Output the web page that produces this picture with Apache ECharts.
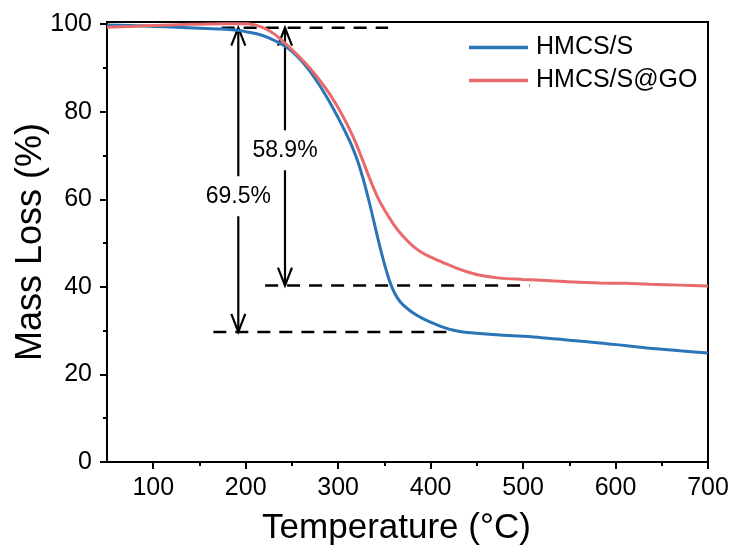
<!DOCTYPE html>
<html>
<head>
<meta charset="utf-8">
<script src="https://cdn.jsdelivr.net/npm/echarts@6/dist/echarts.min.js"></script>
<style>
  html, body { margin: 0; padding: 0; background: #fff; }
  #chart { width: 737px; height: 552px; }
</style>
</head>
<body>
<div id="chart"></div>
<script>
// TGA curves: temperature (°C) vs remaining mass (%)
const hmcsS = [
  [50, 99.8], [75, 99.7], [100, 99.5], [125, 99.3], [150, 99.1], [175, 98.9],
  [190, 98.6], [200, 98.3], [212, 97.8], [225, 96.9], [240, 95.3], [250, 93.8],
  [260, 91.7], [270, 89.1], [280, 86.0], [290, 82.5], [300, 78.6], [308, 75.3],
  [315, 72.1], [321, 68.8], [327, 64.7], [333, 59.9], [339, 54.6], [345, 49.3],
  [351, 44.5], [356, 41.1], [361, 38.6], [367, 36.6], [375, 35.0], [385, 33.5],
  [395, 32.4], [405, 31.5], [415, 30.7], [425, 30.1], [435, 29.7], [450, 29.4],
  [475, 29.0], [500, 28.7], [520, 28.4], [550, 27.8], [583, 27.2], [610, 26.6],
  [637, 26.0], [670, 25.4], [700, 24.9]
];
const hmcsSGO = [
  [50, 99.3], [75, 99.5], [100, 99.7], [125, 99.9], [150, 100.0], [175, 100.1],
  [200, 100.1], [210, 99.8], [220, 99.1], [230, 97.9], [240, 96.1], [250, 94.2],
  [260, 92.1], [270, 89.8], [280, 87.2], [290, 84.3], [300, 80.9], [310, 77.0],
  [318, 73.4], [326, 69.2], [334, 64.8], [342, 60.8], [350, 57.6], [360, 54.3],
  [370, 51.6], [380, 49.5], [390, 47.9], [402, 46.6], [415, 45.4], [428, 44.3],
  [440, 43.4], [455, 42.6], [475, 42.0], [500, 41.7], [529, 41.4], [555, 41.1],
  [583, 40.9], [610, 40.8], [637, 40.6], [670, 40.4], [700, 40.2]
];

const seriesNames = ['HMCS/S', 'HMCS/S@GO'];

// Tick values
const xTickLabels = [100, 200, 300, 400, 500, 600, 700];
const xMinorTicks = [150, 250, 350, 450, 550, 650];
const yTickLabels = [0, 20, 40, 60, 80, 100];
const yMinorTicks = [10, 30, 50, 70, 90];

// Mass-loss annotations: start level, loss values, arrow positions
const startLevel = 99.2;
const massLoss = [69.5, 58.9];
const lossLabels = ['69.5%', '58.9%'];
const arrowX = [192, 242.5];
const arrowLabelY = [60.7, 71.2];

// Dashed guide lines: [x start, x end] for the start level and each residual level
const guideTop = [174, 354];
const guideResidual = [[221, 507], [165, 421]];

const FONT = "'Liberation Sans', Arial, sans-serif";
const BLUE = '#2b74b8';
const RED = '#e86a6b';

const residual = massLoss.map(l => +(startLevel - l).toFixed(2));
const guideData = [[guideTop[0], guideTop[1], startLevel]]
  .concat(guideResidual.map((g, i) => [g[0], g[1], residual[(i + 1) % 2]]));
const arrowData = arrowX.map((x, i) => [x, startLevel, residual[i], arrowLabelY[i]]);

const chart = echarts.init(document.getElementById('chart'), null, { renderer: 'canvas' });

function renderGuide(params, api) {
  const a = api.coord([api.value(0), api.value(2)]);
  const b = api.coord([api.value(1), api.value(2)]);
  return {
    type: 'line',
    shape: { x1: a[0], y1: a[1], x2: b[0], y2: b[1] },
    style: { stroke: '#000', lineWidth: 2.5, lineDash: [13, 9] }
  };
}

function renderArrow(params, api) {
  const x = api.value(0);
  const pTop = api.coord([x, api.value(1)]);
  const pBot = api.coord([x, api.value(2)]);
  const pLab = api.coord([x, api.value(3)]);
  const px = pTop[0];
  const gap = 20, headLen = 18, headHalf = 7;
  const lineStyle = { stroke: '#000', lineWidth: 2.2, fill: null };
  return {
    type: 'group',
    children: [
      { type: 'line', shape: { x1: px, y1: pTop[1], x2: px, y2: pLab[1] - gap }, style: lineStyle },
      { type: 'line', shape: { x1: px, y1: pLab[1] + gap, x2: px, y2: pBot[1] }, style: lineStyle },
      { type: 'polyline', shape: { points: [[px - headHalf, pTop[1] + headLen], [px, pTop[1]], [px + headHalf, pTop[1] + headLen]] }, style: lineStyle },
      { type: 'polyline', shape: { points: [[px - headHalf, pBot[1] - headLen], [px, pBot[1]], [px + headHalf, pBot[1] - headLen]] }, style: lineStyle },
      {
        type: 'text',
        x: px, y: pLab[1],
        style: {
          text: lossLabels[params.dataIndex],
          fontFamily: FONT, fontSize: 23, fill: '#000',
          align: 'center', verticalAlign: 'middle'
        }
      }
    ]
  };
}

const axisLineStyle = { color: '#000', width: 2 };

chart.setOption({
  backgroundColor: '#fff',
  animation: false,
  textStyle: { fontFamily: FONT },
  grid: {
    left: 107, right: 29, top: 22, bottom: 90,
    outerBoundsMode: 'none',
    show: true, borderColor: '#000', borderWidth: 2, backgroundColor: 'transparent'
  },
  legend: {
    data: seriesNames,
    orient: 'vertical',
    left: 469, top: 35,
    padding: 0,
    itemGap: 8,
    icon: 'rect',
    itemWidth: 59, itemHeight: 3.5,
    textStyle: { fontFamily: FONT, fontSize: 25, color: '#000', padding: [0, 0, 0, 3] }
  },
  xAxis: [
    {
      type: 'value', min: 50, max: 700,
      name: 'Temperature (°C)', nameLocation: 'middle', nameGap: 49,
      nameMoveOverlap: false,
      nameTextStyle: { fontFamily: FONT, fontSize: 35, color: '#000', padding: [0, 22, 0, 0] },
      axisLine: { lineStyle: axisLineStyle },
      axisTick: { show: true, length: 7, lineStyle: { color: '#000', width: 2 }, customValues: xTickLabels },
      axisLabel: { customValues: xTickLabels, fontFamily: FONT, fontSize: 25, color: '#000', margin: 14 },
      splitLine: { show: false }
    },
    {
      type: 'value', min: 50, max: 700, position: 'bottom',
      axisLine: { show: false },
      axisTick: { show: true, length: 4, lineStyle: { color: '#000', width: 2 }, customValues: xMinorTicks },
      axisLabel: { show: false },
      splitLine: { show: false }
    }
  ],
  yAxis: [
    {
      type: 'value', min: 0, max: 100.5,
      name: 'Mass Loss (%)', nameLocation: 'middle', nameGap: 58,
      nameMoveOverlap: false,
      nameTextStyle: { fontFamily: FONT, fontSize: 36, color: '#000' },
      axisLine: { show: true, lineStyle: axisLineStyle },
      axisTick: { show: true, length: 7, lineStyle: { color: '#000', width: 2 }, customValues: yTickLabels },
      axisLabel: { customValues: yTickLabels, fontFamily: FONT, fontSize: 25, color: '#000', margin: 15 },
      splitLine: { show: false }
    },
    {
      type: 'value', min: 0, max: 100.5, position: 'left',
      axisLine: { show: false },
      axisTick: { show: true, length: 4, lineStyle: { color: '#000', width: 2 }, customValues: yMinorTicks },
      axisLabel: { show: false },
      splitLine: { show: false }
    }
  ],
  series: [
    {
      type: 'custom', name: 'guides', xAxisIndex: 0, yAxisIndex: 0,
      renderItem: renderGuide, data: guideData, z: 3, silent: true
    },
    {
      type: 'custom', name: 'arrows', xAxisIndex: 0, yAxisIndex: 0,
      renderItem: renderArrow, data: arrowData, z: 4, silent: true
    },
    {
      type: 'line', name: seriesNames[0], data: hmcsS,
      xAxisIndex: 0, yAxisIndex: 0,
      showSymbol: false, smooth: 0.35,
      color: BLUE, lineStyle: { color: BLUE, width: 3 }, z: 5
    },
    {
      type: 'line', name: seriesNames[1], data: hmcsSGO,
      xAxisIndex: 0, yAxisIndex: 0,
      showSymbol: false, smooth: 0.35,
      color: RED, lineStyle: { color: RED, width: 3 }, z: 6
    }
  ]
});
</script>
</body>
</html>
